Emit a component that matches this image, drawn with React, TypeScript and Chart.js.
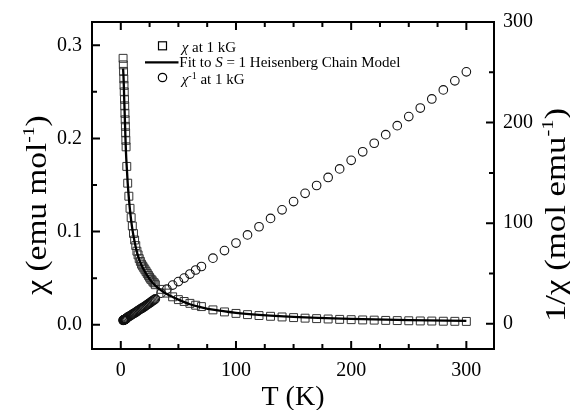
import React, { useEffect, useRef } from 'react';
import { Chart, registerables } from 'chart.js';

Chart.register(...registerables);

// Temperatures (K) of the measured points
const temps = [
  2.0, 2.2, 2.4, 2.6, 2.8, 3.0, 3.2, 3.4, 3.6, 3.8, 4.0, 4.2, 4.4, 4.6, 5.2,
  6, 7, 8, 9, 10, 11, 12, 13, 14, 15, 16, 17, 18, 19, 20, 21, 22, 23, 24, 25,
  26, 27, 28, 29, 30, 35, 40, 45, 50, 55, 60, 65, 70, 80, 90, 100, 110, 120,
  130, 140, 150, 160, 170, 180, 190, 200, 210, 220, 230, 240, 250, 260, 270,
  280, 290, 300,
];

// chi (emu/mol) at 1 kG
const chiData = [
  0.286, 0.279, 0.272, 0.264, 0.257, 0.25, 0.242, 0.235, 0.227, 0.22, 0.213,
  0.206, 0.198, 0.191, 0.17, 0.152, 0.138, 0.125, 0.115, 0.106, 0.098, 0.091,
  0.085, 0.079, 0.075, 0.071, 0.068, 0.065, 0.063, 0.061, 0.059, 0.057, 0.055,
  0.053, 0.051, 0.049, 0.048, 0.046, 0.045, 0.043, 0.038, 0.034, 0.03, 0.027,
  0.025, 0.023, 0.021, 0.0195, 0.016, 0.0138, 0.0122, 0.0109, 0.0099, 0.0091,
  0.0084, 0.0077, 0.0071, 0.0066, 0.0062, 0.0058, 0.0055, 0.0052, 0.005,
  0.0047, 0.0045, 0.0043, 0.0041, 0.004, 0.0038, 0.0037, 0.0036,
];

// 1/chi (mol/emu) at 1 kG
const invChiData = [
  3.5, 3.6, 3.7, 3.8, 3.9, 4.0, 4.1, 4.2, 4.4, 4.5, 4.7, 4.85, 5.05, 5.25, 5.9,
  6.6, 7.3, 8.0, 8.7, 9.4, 10.1, 10.8, 11.5, 12.3, 13.2, 13.9, 14.6, 15.3, 16.0,
  16.7, 17.5, 18.3, 19.1, 19.9, 20.7, 21.5, 22.3, 23.2, 24.0, 24.8, 30.5, 34.5,
  38.5, 42, 45.5, 49.5, 53.5, 57, 65.3, 72.8, 80.3, 88.4, 96.5, 104.8, 113.3,
  121.5, 129.7, 137.5, 145.5, 154, 162.5, 171, 179.5, 188, 197, 206, 214.5,
  223.5, 232.5, 241.5, 250.5,
];

// S = 1 Heisenberg chain fit
const fitT = [
  2, 2.5, 3, 3.5, 4, 4.5, 5, 6, 7, 8, 9, 10, 12, 14, 16, 18, 20, 25, 30, 35,
  40, 50, 60, 70, 80, 100, 120, 150, 200, 250, 300,
];
const fitChi = [
  0.275, 0.262, 0.241, 0.222, 0.202, 0.185, 0.173, 0.152, 0.136, 0.123, 0.112,
  0.103, 0.089, 0.078, 0.07, 0.064, 0.059, 0.049, 0.042, 0.037, 0.033, 0.027,
  0.022, 0.0188, 0.0162, 0.0128, 0.0106, 0.0085, 0.0064, 0.0051, 0.0042,
];

// Tick values
const xTicks = [0, 100, 200, 300];
const xMinor = [25, 50, 75, 125, 150, 175, 225, 250, 275];
const yLeftTicks = [0, 0.1, 0.2, 0.3];
const yLeftMinor = [0.05, 0.15, 0.25];
const yRightTicks = [0, 100, 200, 300];
const yRightMinor = [50, 150, 250];

const SERIF = '"Liberation Serif", "Times New Roman", serif';

type Run = { t: string; f: string; dy?: number };

function drawRuns(ctx: CanvasRenderingContext2D, runs: Run[], x: number, y: number, center: boolean) {
  let total = 0;
  for (const r of runs) {
    ctx.font = r.f;
    total += ctx.measureText(r.t).width;
  }
  let cx = center ? x - total / 2 : x;
  for (const r of runs) {
    ctx.font = r.f;
    ctx.fillText(r.t, cx, y + (r.dy || 0));
    cx += ctx.measureText(r.t).width;
  }
}

const framePlugin = {
  id: 'framePlugin',
  afterDraw(chart: any) {
    const { ctx, chartArea: a, scales } = chart;
    const sx = scales.x;
    const sy = scales.y;
    const sy2 = scales.y2;
    ctx.save();
    ctx.strokeStyle = '#000';
    ctx.lineWidth = 2;
    ctx.strokeRect(a.left, a.top, a.right - a.left, a.bottom - a.top);

    const MAJ = 8;
    const MIN = 5;
    ctx.beginPath();
    const xt = (v: number, len: number) => {
      const p = sx.getPixelForValue(v);
      ctx.moveTo(p, a.bottom);
      ctx.lineTo(p, a.bottom - len);
      ctx.moveTo(p, a.top);
      ctx.lineTo(p, a.top + len);
    };
    xTicks.forEach((v) => xt(v, MAJ));
    xMinor.forEach((v) => xt(v, MIN));
    const yl = (v: number, len: number) => {
      const p = sy.getPixelForValue(v);
      ctx.moveTo(a.left, p);
      ctx.lineTo(a.left + len, p);
    };
    yLeftTicks.forEach((v) => yl(v, MAJ));
    yLeftMinor.forEach((v) => yl(v, MIN));
    const yr = (v: number, len: number) => {
      const p = sy2.getPixelForValue(v);
      ctx.moveTo(a.right, p);
      ctx.lineTo(a.right - len, p);
    };
    yRightTicks.forEach((v) => yr(v, MAJ));
    yRightMinor.forEach((v) => yr(v, MIN));
    ctx.stroke();

    // Axis titles
    ctx.fillStyle = '#000';
    ctx.textAlign = 'left';
    ctx.textBaseline = 'alphabetic';
    const tf = `28px ${SERIF}`;
    const vf = `29px ${SERIF}`;
    const sf = `17px ${SERIF}`;
    drawRuns(ctx, [{ t: 'T (K)', f: tf }], (a.left + a.right) / 2, 405, true);

    ctx.save();
    ctx.translate(46, 205);
    ctx.rotate(-Math.PI / 2);
    ctx.scale(1.15, 1);
    drawRuns(ctx, [
      { t: 'χ (emu mol', f: vf },
      { t: '-1', f: sf, dy: -12 },
      { t: ')', f: vf },
    ], 0, 0, true);
    ctx.restore();

    ctx.save();
    ctx.translate(565, 215);
    ctx.rotate(-Math.PI / 2);
    ctx.scale(1.2, 1);
    drawRuns(ctx, [
      { t: '1/χ (mol emu', f: vf },
      { t: '-1', f: sf, dy: -12 },
      { t: ')', f: vf },
    ], 0, 0, true);
    ctx.restore();

    // Legend
    const L = a.left;
    const T = a.top;
    const lf = `15px ${SERIF}`;
    const lfi = `italic 15px ${SERIF}`;
    const lsf = `10px ${SERIF}`;
    ctx.lineWidth = 1.2;
    ctx.strokeRect(L + 66.5, T + 19.8, 8, 8);
    ctx.beginPath();
    ctx.lineWidth = 2.2;
    ctx.moveTo(L + 53, T + 40.3);
    ctx.lineTo(L + 86.5, T + 40.3);
    ctx.stroke();
    ctx.beginPath();
    ctx.lineWidth = 1.2;
    ctx.arc(L + 70.5, T + 55.5, 4.2, 0, Math.PI * 2);
    ctx.stroke();
    drawRuns(ctx, [{ t: 'χ', f: lfi }, { t: ' at 1 kG', f: lf }], L + 89.7, T + 29.7, false);
    drawRuns(ctx, [
      { t: 'Fit to ', f: lf },
      { t: 'S', f: lfi },
      { t: ' = 1 Heisenberg Chain Model', f: lf },
    ], L + 87.3, T + 44.7, false);
    drawRuns(ctx, [
      { t: 'χ', f: lfi },
      { t: '-1', f: lsf, dy: -5 },
      { t: ' at 1 kG', f: lf },
    ], L + 89.7, T + 62, false);
    ctx.restore();
  },
};

export default function App() {
  const ref = useRef<HTMLCanvasElement | null>(null);

  useEffect(() => {
    document.body.style.margin = '0';
    const canvas = ref.current;
    if (!canvas) return;
    const tickFont = { family: SERIF, size: 20 };
    const chart = new Chart(canvas, {
      type: 'scatter',
      data: {
        datasets: [
          {
            label: 'Fit',
            data: fitT.map((t, i) => ({ x: t, y: fitChi[i] })),
            showLine: true,
            borderColor: '#000',
            borderWidth: 2.3,
            pointRadius: 0,
            cubicInterpolationMode: 'monotone',
            yAxisID: 'y',
            order: 0,
          } as any,
          {
            label: 'chi',
            data: temps.map((t, i) => ({ x: t, y: chiData[i] })),
            showLine: false,
            pointStyle: 'rect',
            pointRadius: 5.6,
            borderWidth: 1,
            borderColor: '#333',
            backgroundColor: 'rgba(0,0,0,0)',
            yAxisID: 'y',
            order: 1,
          },
          {
            label: 'invchi',
            data: temps.map((t, i) => ({ x: t, y: invChiData[i] })),
            showLine: false,
            pointStyle: 'circle',
            pointRadius: 4.3,
            borderWidth: 1.1,
            borderColor: '#111',
            backgroundColor: 'rgba(255,255,255,0)',
            yAxisID: 'y2',
            order: 2,
          },
        ],
      },
      options: {
        responsive: false,
        animation: false,
        devicePixelRatio: 1,
        layout: { padding: { top: 22, left: 0, right: 0, bottom: 0 } },
        plugins: { legend: { display: false }, tooltip: { enabled: false } },
        scales: {
          x: {
            type: 'linear',
            min: -25,
            max: 324,
            grid: { display: false, drawTicks: false },
            border: { display: false },
            ticks: { font: tickFont, color: '#000', padding: 10, maxRotation: 0 },
            afterBuildTicks: (s: any) => {
              s.ticks = xTicks.map((v) => ({ value: v }));
            },
            afterFit: (s: any) => {
              s.height = 61;
            },
          },
          y: {
            type: 'linear',
            position: 'left',
            min: -0.026,
            max: 0.325,
            grid: { display: false, drawTicks: false },
            border: { display: false },
            ticks: {
              font: tickFont,
              color: '#000',
              padding: 10,
              callback: (v: any) => Number(v).toFixed(1),
            },
            afterBuildTicks: (s: any) => {
              s.ticks = yLeftTicks.map((v) => ({ value: v }));
            },
            afterFit: (s: any) => {
              s.width = 92;
            },
          },
          y2: {
            type: 'linear',
            position: 'right',
            min: -25,
            max: 300,
            grid: { display: false, drawTicks: false },
            border: { display: false },
            ticks: { font: tickFont, color: '#000', padding: 9, callback: (v: any) => String(v) },
            afterBuildTicks: (s: any) => {
              s.ticks = yRightTicks.map((v) => ({ value: v }));
            },
            afterFit: (s: any) => {
              s.width = 76;
            },
          },
        },
      },
      plugins: [framePlugin],
    });
    return () => chart.destroy();
  }, []);

  return (
    <div style={{ width: 570, height: 410 }}>
      <canvas ref={ref} width={570} height={410} style={{ display: 'block' }} />
    </div>
  );
}
